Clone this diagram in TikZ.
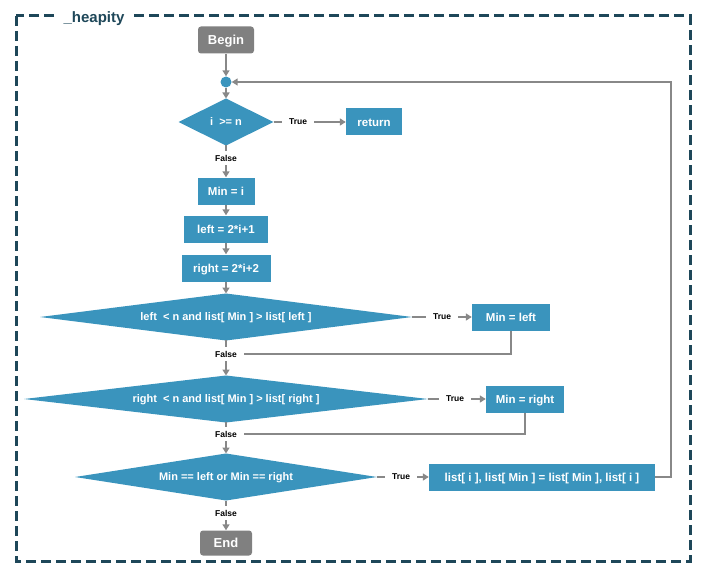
\documentclass[tikz,border=0pt]{standalone}
\usepackage{fontspec}
\setmainfont{Liberation Sans}
\usetikzlibrary{arrows.meta,shapes.geometric,positioning}

\definecolor{boxblue}{HTML}{3A94BD}
\definecolor{termgray}{HTML}{808080}
\definecolor{linegray}{HTML}{888888}
\definecolor{framecol}{HTML}{1E4759}

\begin{document}
\begin{tikzpicture}[
        x=1pt, y=-1pt,
        every node/.style={font=\bfseries},
        terminal/.style={fill=termgray, text=white, rounded corners=3pt, inner sep=0pt,
            minimum width=56pt, minimum height=27pt, text height=9.3pt, text depth=0pt,
            font=\bfseries\fontsize{13}{15}\selectfont},
        process/.style={fill=boxblue, text=white, inner sep=0pt, minimum height=27pt,
            text height=8.2pt, text depth=0pt, font=\bfseries\fontsize{11.5}{13}\selectfont},
        decision/.style={diamond, aspect=6, fill=boxblue, text=white, inner sep=0pt,
            outer sep=0pt, minimum height=47pt, text height=7.9pt, text depth=0pt,
            font=\bfseries\fontsize{11}{13}\selectfont},
        branch/.style={text=black, inner xsep=7pt, inner ysep=4pt,
            font=\bfseries\fontsize{8.5}{10}\selectfont},
        link/.style={draw=linegray, line width=2.2pt},
        flow/.style={link, -{Triangle[length=6pt,width=7pt]}},
        frame line/.style={draw=framecol, line width=3pt, dash pattern=on 10pt off 5pt}
    ]
    \useasboundingbox (0,0) rectangle (705,578);
    % frame
    \draw[frame line] (16,16) rectangle (690,561);
    \node[fill=white, text=framecol, inner xsep=8pt, inner ysep=2pt,
        font=\bfseries\fontsize{15}{17}\selectfont] (title) at (94,19) {\_heapity};

    % main column
    \node[terminal] (begin) at (226,40) {Begin};
    \node[circle, fill=boxblue, inner sep=0pt, minimum size=11pt] (join) at (226,82) {};
    \node[decision, minimum width=95pt] (test) at (226,122) {i \ >= n};
    \node[branch] (ttest) at (298,122) {True};
    \node[process, minimum width=56pt] (ret) at (374,122) {return};
    \node[branch] (ftest) at (226,158) {False};
    \node[process, minimum width=57pt] (mini) at (226,191) {Min = i};
    \node[process, minimum width=84pt] (left) at (226,229) {left = 2*i+1};
    \node[process, minimum width=89pt] (right) at (226,268) {right = 2*i+2};

    \node[decision, minimum width=372pt] (cleft) at (226,317)
        {left \ < n and list[ Min ] > list[ left ]};
    \node[branch] (tleft) at (442,317) {True};
    \node[process, minimum width=78pt] (minleft) at (511,317) {Min = left};
    \node[branch] (fleft) at (226,354) {False};

    \node[decision, minimum width=404pt] (cright) at (226,399)
        {right \ < n and list[ Min ] > list[ right ]};
    \node[branch] (tright) at (455,399) {True};
    \node[process, minimum width=78pt] (minright) at (525,399) {Min = right};
    \node[branch] (fright) at (226,434) {False};

    \node[decision, minimum width=302pt] (cswap) at (226,477)
        {Min == left or Min == right};
    \node[branch] (tswap) at (401,477) {True};
    \node[process, minimum width=226pt] (swap) at (542,477)
        {list[ i ], list[ Min ] = list[ Min ], list[ i ]};
    \node[branch] (fswap) at (226,513) {False};
    \node[terminal, minimum width=52pt, minimum height=25pt] (end) at (226,543) {End};

    % connectors
    \draw[flow] (begin) -- (join);
    \draw[flow] (join) -- (test);
    \draw[link] (test) -- (ttest);
    \draw[flow] (ttest) -- (ret);
    \draw[link] (test) -- (ftest);
    \draw[flow] (ftest) -- (mini);
    \draw[flow] (mini) -- (left);
    \draw[flow] (left) -- (right);
    \draw[flow] (right) -- (cleft);

    \draw[link] (cleft) -- (tleft);
    \draw[flow] (tleft) -- (minleft);
    \draw[link] (cleft) -- (fleft);
    \draw[link] (minleft) |- (fleft);
    \draw[flow] (fleft) -- (cright);

    \draw[link] (cright) -- (tright);
    \draw[flow] (tright) -- (minright);
    \draw[link] (cright) -- (fright);
    \draw[link] (minright) |- (fright);
    \draw[flow] (fright) -- (cswap);

    \draw[link] (cswap) -- (tswap);
    \draw[flow] (tswap) -- (swap);
    \draw[link] (cswap) -- (fswap);
    \draw[flow] (fswap) -- (end);

    % back to the loop head
    \draw[flow] (swap.east) -- ++(16,0) |- (join);
\end{tikzpicture}
\end{document}
